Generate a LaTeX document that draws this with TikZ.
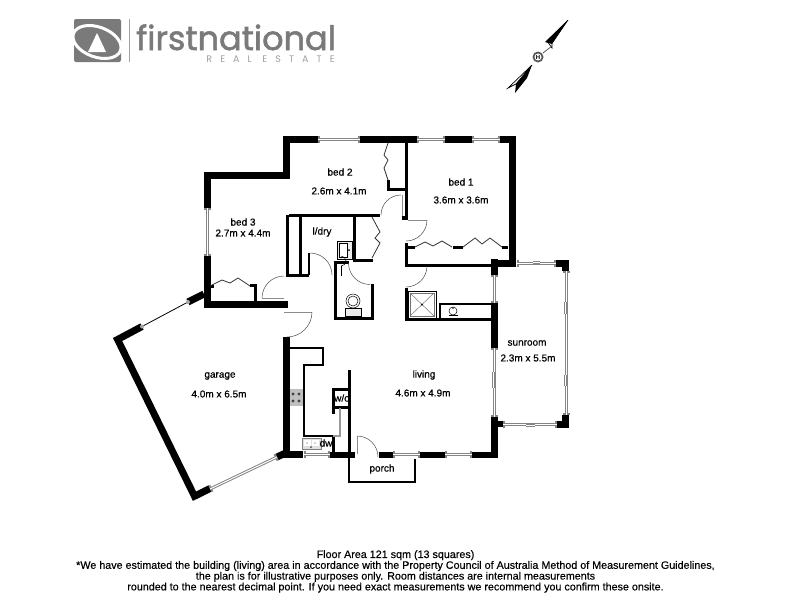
\documentclass[tikz,border=0pt]{standalone}
\usepackage{fontspec}
\setmainfont{Liberation Sans}
\newfontfamily\roomfont[FakeBold=0.6]{Liberation Sans}
\newfontfamily\notefont[FakeBold=0.3]{Liberation Sans}
\newfontfamily\logofont[FakeBold=1.6]{Poppins}
\newfontfamily\estatefont[LetterSpace=85]{Poppins}
\usetikzlibrary{calc,arrows.meta}

\colorlet{logogrey}{black!52}
\tikzset{
  wall/.style={line width=7pt,black,miter limit=10},
  midwall/.style={line width=3pt,black},
  thinwall/.style={line width=2pt,black},
  sash/.style={draw=black!48,line width=3pt},
  jambed/.style={sash,{Bar[width=7pt,line width=2pt]}-{Bar[width=7pt,line width=2pt]}},
  glass/.style={draw=white,line width=1pt},
  leaf/.style={draw=black!45,line width=.8pt},
  swing/.style={black!70,line width=.5pt},
  bifold/.style={black!80,line width=.8pt},
  fixture/.style={black,line width=.5pt},
  roomlabel/.style={font=\roomfont\fontsize{10}{12}\selectfont,inner sep=0pt},
}

\begin{document}
\begin{tikzpicture}[x=1pt,y=-1pt]
\useasboundingbox (0,0) rectangle (800,600);

% logo
\fill[logogrey,rounded corners=2pt] (74,19) rectangle (121,62);
\draw[white,line width=3pt,rotate around={-20:(97,42)}] (97,42) ellipse[x radius=25,y radius=15];
\fill[white] (88,52) -- (106,52) -- (97,33) -- cycle;
\draw[logogrey!70,line width=.8pt] (129,19) -- (129,62);
\node[logogrey,font=\logofont\fontsize{33.5}{33}\selectfont,anchor=base west,inner sep=0pt] (logotext) at (136,50) {firstnational};
\node[black!38,font=\estatefont\fontsize{9.5}{9}\selectfont,anchor=base east,inner sep=0pt] (logosub) at (335,62) {REAL ESTATE};

% north point
\draw[black,line width=.7pt,fill=white] (568,20) -- (552,43) -- (552,48) -- (547,41) -- cycle;
\fill[black] (568,20) -- (545,42) -- (552,44) -- cycle;
\draw[black,line width=.7pt,fill=white] (532,65) -- (508,88) -- (516,84) -- cycle;
\fill[black] (532,65) -- (516,84) -- (515,93) -- (527,78) -- cycle;
\draw[black!70,line width=.7pt] (552,46) -- (543,53);
\fill[black!65] (538,57) circle[radius=5.5];
\fill[white] (538,57) circle[radius=3.5];
\node[font=\bfseries\fontsize{6}{6}\selectfont,inner sep=0pt] (northmark) at (538,57) {H};

% outer walls
\draw[wall] (204,294) -- (188,302);
\draw[wall] (142,326.5) -- (117.6,339.5) -- (194.5,496.2) -- (210,488.5);
\draw[wall] (277,457) -- (290,451);
\draw[wall] (207,208) -- (207,175.5) -- (286,175.5) -- (286,139.5) -- (318,139.5);
\draw[wall] (360,139.5) -- (417,139.5);
\draw[wall] (445,139.5) -- (472,139.5);
\draw[wall] (500,139.5) -- (512,139.5) -- (512,263) -- (492,263);
\draw[wall] (494.5,259) -- (494.5,275);
\draw[wall] (494.5,303) -- (494.5,348);
\draw[wall] (494.5,417) -- (494.5,458);
\draw[wall] (207,256) -- (207,304.5) -- (288,304.5);
\draw[wall] (286,337) -- (286,454.5) -- (303,454.5);
\draw[line width=6pt] (330,454.5) -- (355,454.5);
\draw[line width=6pt] (379,454.5) -- (393,454.5);
\draw[line width=6pt] (420,454.5) -- (445,454.5);
\draw[line width=6pt] (472,454.5) -- (498,454.5);
% corner blocks
\draw[wall] (556,263) -- (565.5,263) -- (565.5,271);
\draw[wall] (565.5,415) -- (565.5,424.5) -- (557,424.5);
\draw[line width=6pt] (498,424) -- (503,424);

% windows
\foreach \xa/\ya/\xb/\yb in {207.5/208/207.5/256, 318/139.5/360/139.5, 417/139.5/445/139.5, 472/139.5/500/139.5,
  494.5/275/494.5/303, 494.5/348/494.5/417, 304/454.5/330/454.5, 393/454.5/420/454.5, 445/454.5/472/454.5,
  517/263.5/556/263.5, 566.5/271/566.5/415, 503/424.5/557/424.5, 210/489/277/457}{
  \draw[jambed] (\xa,\ya) -- (\xb,\yb);
  \draw[glass] (\xa,\ya) -- (\xb,\yb);
}
\draw[black,line width=.8pt] (142,326.5) -- (188,302);
\foreach \xa/\ya in {142/326.5, 188/302}
  \fill[black!35] (\xa,\ya) circle[radius=2];
% sliding sash overlaps
\foreach \xa/\ya/\xb/\yb in {533/262.5/540/262.5, 565.5/302/565.5/314, 565.5/375/565.5/386, 493.5/372/493.5/388, 526/425.5/535/425.5}{
  \draw[sash] (\xa,\ya) -- (\xb,\yb);
  \draw[glass] (\xa,\ya) -- (\xb,\yb);
}

% inner walls
\draw[midwall] (289,215) -- (380,215);
\draw[midwall] (287,215) -- (287,275) -- (309,275);
\draw[midwall] (300.5,215) -- (300.5,275);
\draw[thinwall] (309,253) -- (309,275);
\draw[midwall] (354.5,215) -- (354.5,262);
\draw[midwall] (354,260.5) -- (373,260.5);
\draw[midwall] (335,262) -- (335,318) -- (372.5,318) -- (372.5,284);
\draw[midwall] (333.5,262) -- (349,262);
\draw[midwall] (388,180) -- (388,189.5) -- (406,189.5);
\draw[midwall] (406.5,136) -- (406.5,218);
\draw[line width=4pt] (402,217.5) -- (408,217.5);
\draw[midwall] (406.5,243) -- (406.5,265) -- (492,265);
\draw[midwall] (405,319.5) -- (491,319.5);
\draw[midwall] (406.5,288) -- (406.5,321);
\draw[midwall] (408,247) -- (415,247);
\draw[midwall] (453,247) -- (463,247);
\draw[midwall] (502,247) -- (508,247);
\draw[midwall] (255.5,285) -- (255.5,302);
\draw[midwall] (250,285.5) -- (257,285.5);
\draw[midwall] (211,286) -- (214,286);

% wardrobe doors
\draw[bifold] (210,286) -- (222,280) -- (230,283) -- (238,278) -- (250,286);
\draw[bifold] (415,247) -- (425,242) -- (433,246) -- (442,241) -- (452,247);
\draw[bifold] (463,247) -- (475,238) -- (482,244) -- (490,238) -- (502,247);
\draw[bifold] (388,143) -- (384,155) -- (388,160) -- (384,168) -- (388,180);
\draw[bifold] (372,217) -- (380,232) -- (375,238) -- (380,243) -- (372,258);

% doors
\draw[leaf] (262,298) -- (284,298);
\draw[swing] (262,298) arc[start angle=180,end angle=270,radius=22];
\draw[swing] (310,253) arc[start angle=270,end angle=360,radius=22];
\draw[swing] (348.5,263) arc[start angle=180,end angle=90,radius=21.5];
\draw[leaf] (402,195) -- (402,216);
\draw[swing] (401,195) arc[start angle=270,end angle=180,radius=20];
\draw[leaf] (408,220) -- (427,220);
\draw[swing] (427,220) arc[start angle=0,end angle=90,radius=21];
\draw[swing] (427,266) arc[start angle=0,end angle=90,radius=21];
\draw[leaf] (284,312) -- (312,312);
\draw[swing] (312,312) arc[start angle=0,end angle=90,radius=25];
\draw[leaf] (357,436) -- (357,454);
\draw[swing] (357,436) arc[start angle=270,end angle=360,radius=21];

% kitchen
\draw[thinwall] (289,348) -- (322.5,348) -- (322.5,365) -- (304,365) -- (304,436) -- (333,436);
\draw[midwall] (333,388) -- (333,414);
\draw[midwall] (333,436) -- (333,454);
\draw[midwall] (333,389.5) -- (349,389.5);
\draw[midwall] (333,407.5) -- (349,407.5);
\draw[midwall] (349.5,370) -- (349.5,454);
\draw[black!40,line width=1.2pt] (340,408) -- (340,436) -- (333,436);
\fill[black!25] (289.5,389) rectangle (303,406);
\foreach \px/\py in {293/394, 299/394, 293/401, 299/401}
  \fill[black!75] (\px,\py) circle[radius=1.6];
\draw[black!50,fill=black!12,line width=.5pt] (302,438) rectangle (321,449);
\fill[white] (304,439.5) rectangle (310.5,446);
\fill[white] (312,439.5) rectangle (319,446);
\fill[black!70] (307,443) circle[radius=.7] (315,443) circle[radius=.7] (311,447) circle[radius=1];

% laundry tub
\draw[fixture,fill=black!8] (337,241) rectangle (352,259);
\draw[fixture,fill=white] (339,243) rectangle (347,257);
\fill[black] (349,250) circle[radius=1];

% toilet
\draw[fixture] (341,266) arc[start angle=90,end angle=-90,radius=5];
\draw[fixture] (341,266) -- (341,276);
\draw[fixture,fill=black!8] (345,308) rectangle (361,316);
\draw[fixture,fill=white] (353,301) ellipse[x radius=7,y radius=7];
\draw[fixture] (353,301) ellipse[x radius=5,y radius=5];

% bathroom
\draw[black,line width=1pt] (408,291) rectangle (436,318);
\draw[black!55,line width=.5pt] (410,293) rectangle (434,316);
\draw[black!55,line width=.5pt] (410,293) -- (434,316) (434,293) -- (410,316);
\fill[black] (422,304.5) circle[radius=1];
\draw[thinwall] (491,304) -- (440,304) -- (440,319);
\draw[fixture] (453,311) circle[radius=4];
\draw[fixture] (449,315) -- (458,315);
\fill[black] (453,308) circle[radius=.8];

% porch
\draw[thinwall] (349,457) -- (349,482) -- (415,482) -- (415,459);

% room names
\node[roomlabel] (bedtwo) at (340,172) {bed 2};
\node[roomlabel] (bedtwosize) at (339,191) {2.6m x 4.1m};
\node[roomlabel] (bedone) at (461,182) {bed 1};
\node[roomlabel] (bedonesize) at (461,200) {3.6m x 3.6m};
\node[roomlabel] (bedthree) at (243,222) {bed 3};
\node[roomlabel] (bedthreesize) at (243,233) {2.7m x 4.4m};
\node[roomlabel] (ldry) at (322,232) {l/dry};
\node[roomlabel] (garage) at (220,376) {garage};
\node[roomlabel] (garagesize) at (219,394) {4.0m x 6.5m};
\node[roomlabel] (living) at (424,375) {living};
\node[roomlabel] (livingsize) at (423,393) {4.6m x 4.9m};
\node[roomlabel] (porch) at (382,469) {porch};
\node[roomlabel] (sunroom) at (527,343) {sunroom};
\node[roomlabel] (sunroomsize) at (528,358) {2.3m x 5.5m};
\node[roomlabel] (wo) at (342,398) {w/o};
\node[roomlabel] (dw) at (326,443) {dw};

% footer
\node[font=\notefont\fontsize{10.75}{10.8}\selectfont,align=center,inner sep=0pt,anchor=north] (floorarea) at (395.5,550) {Floor Area 121 sqm (13 squares)\\
*We have estimated the building (living) area in accordance with the Property Council of Australia Method of Measurement Guidelines,\\
the plan is for illustrative purposes only. Room distances are internal measurements\\
rounded to the nearest decimal point. If you need exact measurements we recommend you confirm these onsite.};

\end{tikzpicture}
\end{document}
